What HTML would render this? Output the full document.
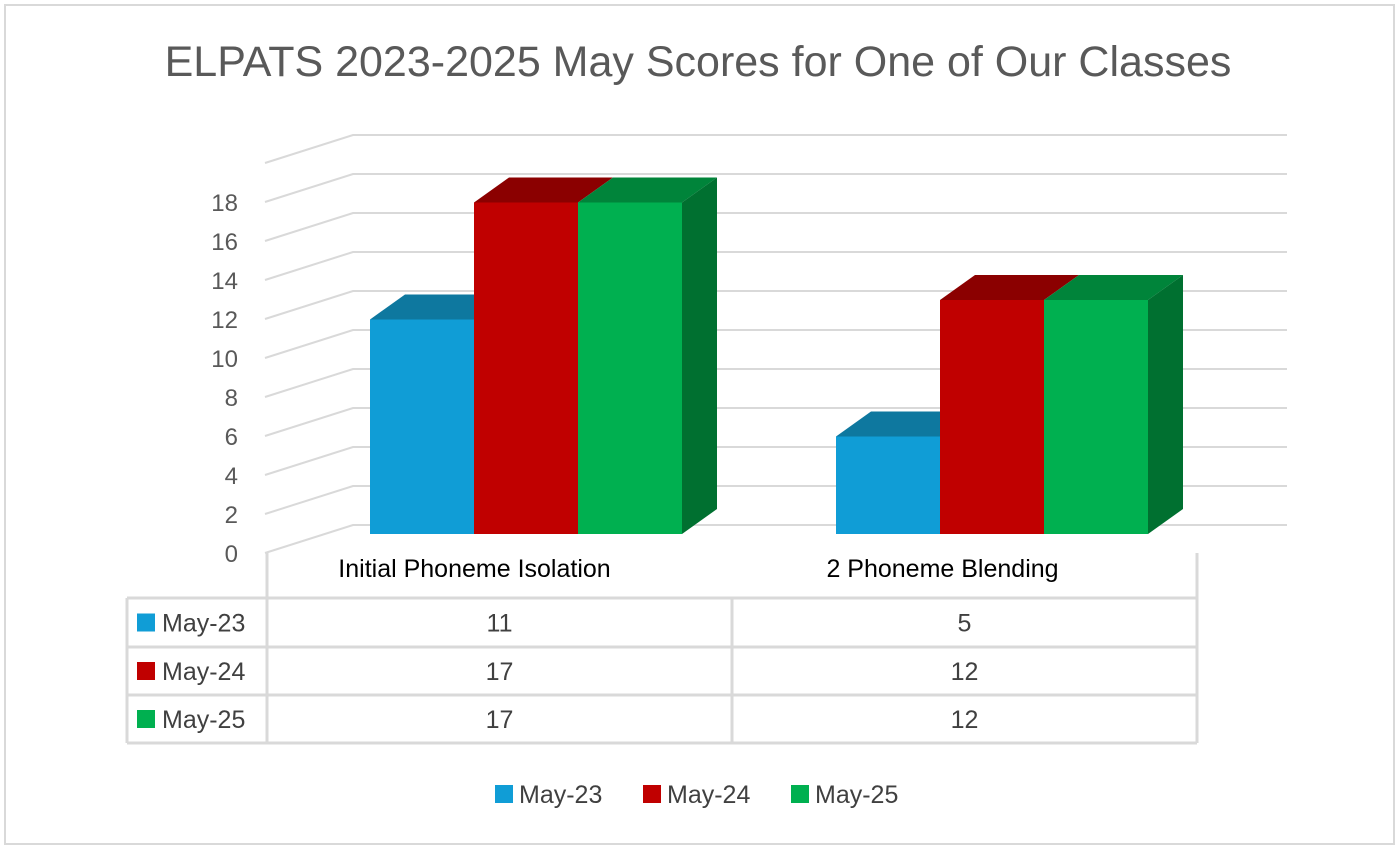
<!DOCTYPE html>
<html><head><meta charset="utf-8"><style>
html,body{margin:0;padding:0;background:#fff;}
svg{display:block;font-family:"Liberation Sans",sans-serif;}
</style></head><body>
<svg id="c" width="1400" height="850" viewBox="0 0 1400 850">
<rect x="5" y="5" width="1389" height="839" fill="#fff" stroke="#d9d9d9" stroke-width="2"/>
<text x="698" y="76" text-anchor="middle" font-size="43" fill="#595959">ELPATS 2023-2025 May Scores for One of Our Classes</text>
<g id="grid"></g><g id="bars"></g><g id="tbl"></g><g id="leg"></g>
</svg>
<script>
const categories = ["Initial Phoneme Isolation", "2 Phoneme Blending"];
const seriesNames = ["May-23", "May-24", "May-25"];
const may23 = [11, 5];
const may24 = [17, 12];
const may25 = [17, 12];
const yTicks = [0, 2, 4, 6, 8, 10, 12, 14, 16, 18, 20];

const NS = "http://www.w3.org/2000/svg";
const colors = ["#109dd6", "#c00000", "#00b050"];
const tops = ["#0e789f", "#8b0000", "#00843a"];
const sides = ["#0c6d93", "#7a0000", "#007030"];
const series = [may23, may24, may25];
function mk(tag, attrs, parent, txt) {
  const e = document.createElementNS(NS, tag);
  for (const k in attrs) e.setAttribute(k, attrs[k]);
  if (txt !== undefined) e.textContent = txt;
  parent.appendChild(e); return e;
}
const frontX = 265, backX = 353, backDX = 88, backDY = -28;
const yFront = v => 553 - v * 19.5;
const barBase = 534;
const yBar = v => barBase - v * 19.5;
const grid = document.getElementById("grid");
yTicks.forEach(t => {
  const yf = yFront(t), yb = yf + backDY;
  const p = mk("polyline", {points: `${frontX},${yf} ${backX},${yb} 1287,${yb}`, fill: "none", stroke: "#d9d9d9", "stroke-width": 2}, grid);
  
  
  if (t <= 18) {
    const l = mk("text", {x: 238, y: yf + 9, "text-anchor": "end", "font-size": 24, fill: "#595959"}, grid, String(t));
    
    
  }
});
const bars = document.getElementById("bars");
const groupX = [370, 836], bw = 104, dx = 35, dy = -25;
categories.forEach((c, ci) => {
  series.forEach((s, si) => {
    const x = groupX[ci] + si * bw, yt = yBar(s[ci]);
    const g = mk("g", {}, bars);
    
    
    mk("polygon", {points: `${x},${yt} ${x+dx},${yt+dy} ${x+bw+dx},${yt+dy} ${x+bw},${yt}`, fill: tops[si]}, g);
    if (si === 2) mk("polygon", {points: `${x+bw},${yt} ${x+bw+dx},${yt+dy} ${x+bw+dx},${barBase+dy} ${x+bw},${barBase}`, fill: sides[si]}, g);
    mk("rect", {x: x, y: yt, width: bw, height: barBase - yt, fill: colors[si]}, g);
  });
});
const tbl = document.getElementById("tbl");
const cols = [127, 267, 732, 1197], rows = [598, 647, 695, 743];
const ln = (x1,y1,x2,y2) => { const l = mk("line", {x1,y1,x2,y2, stroke:"#d9d9d9","stroke-width":3}, tbl);   };
rows.forEach(y => ln(127, y, 1197, y));
ln(127, 598, 127, 743); ln(267, 553, 267, 743); ln(732, 598, 732, 743); ln(1197, 553, 1197, 743);
categories.forEach((c, ci) => {
  const t = mk("text", {x: (cols[ci+1]+cols[ci+2])/2 - (ci ? 22 : 25), y: 577, "text-anchor": "middle", "font-size": 25, fill: "#000"}, tbl, c);
  
  
});
seriesNames.forEach((n, si) => {
  const y = (rows[si] + rows[si+1]) / 2;
  const k = mk("rect", {x: 137, y: y - 9, width: 18, height: 18, fill: colors[si]}, tbl);
  
  
  const t = mk("text", {x: 162, y: y + 9, "font-size": 25, fill: "#404040"}, tbl, n);
  
  
  categories.forEach((c, ci) => {
    const v = mk("text", {x: (cols[ci+1]+cols[ci+2])/2, y: y + 9, "text-anchor": "middle", "font-size": 25, fill: "#404040"}, tbl, String(series[si][ci]));
    
    
  });
});
const leg = document.getElementById("leg");
const legX = [495, 643, 791];
seriesNames.forEach((n, si) => {
  const g = mk("g", {}, leg);
  
  
  mk("rect", {x: legX[si], y: 785, width: 18, height: 18, fill: colors[si]}, g);
  mk("text", {x: legX[si] + 24, y: 803, "font-size": 25, fill: "#404040"}, g, n);
});
</script>
</body></html>
